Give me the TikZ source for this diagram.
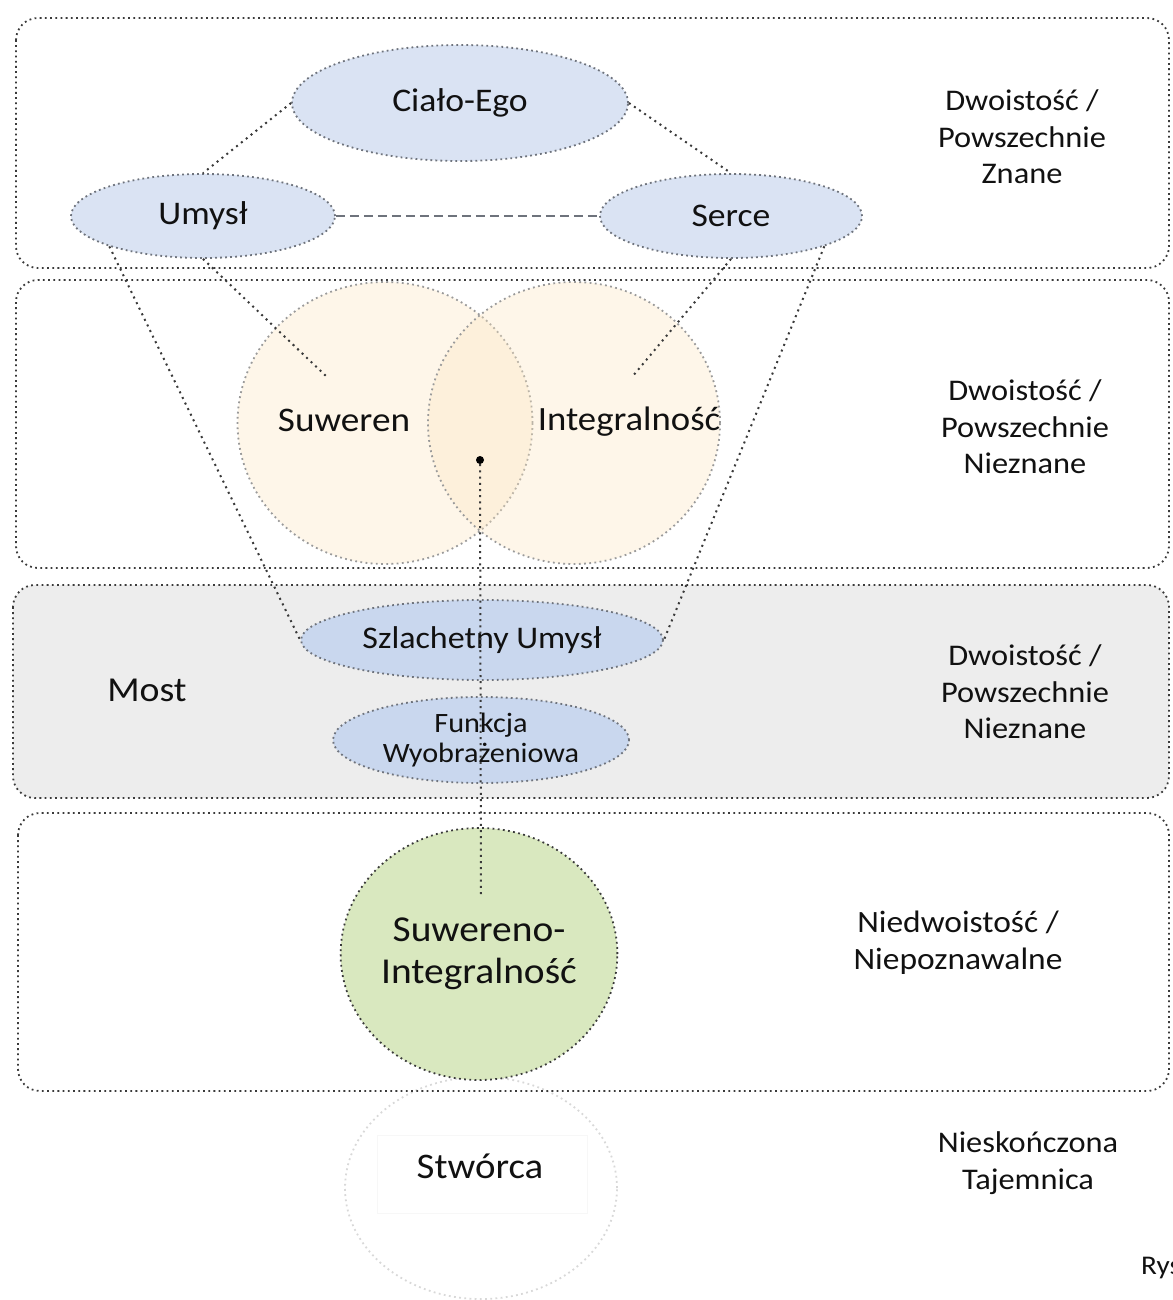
\documentclass[tikz,border=0pt]{standalone}
\usepackage{fontspec}
\setmainfont[FakeStretch=1.08]{Carlito}
\usetikzlibrary{shapes.geometric}
\definecolor{dotc}{HTML}{3A3A3A}
\definecolor{ellline}{HTML}{6E737C}
\definecolor{vennline}{HTML}{9A9A9A}
\definecolor{faintline}{HTML}{D8D8D8}
\definecolor{blueA}{HTML}{DAE3F3}
\definecolor{blueB}{HTML}{C9D7EE}
\definecolor{creamc}{HTML}{FBE5C0}
\definecolor{greenc}{HTML}{D9E8BF}
\definecolor{bandgray}{HTML}{EDEDED}
\definecolor{txt}{HTML}{111111}
\tikzset{
  rowbox/.style={draw=dotc, line width=1.8pt, dash pattern=on 1.8pt off 3.4pt, rounded corners=22pt},
  dotline/.style={draw=dotc, line width=2pt, dash pattern=on 2pt off 4.2pt},
  dashline/.style={draw=ellline, line width=1.1pt, dash pattern=on 9pt off 5pt},
  blueell/.style={ellipse, fill=blueA, draw=ellline, line width=1.8pt, dash pattern=on 1.8pt off 3.2pt, inner sep=0pt, text=txt},
  venn/.style={ellipse, fill=creamc, fill opacity=0.35, draw=vennline, draw opacity=1, line width=1.8pt, dash pattern=on 1.8pt off 3.4pt, inner sep=0pt},
  lbl/.style={text=txt, align=center, inner sep=0pt},
}
\newcommand{\fsz}[2]{\fontsize{#1pt}{#2pt}\selectfont}
\begin{document}
\begin{tikzpicture}[x=1pt,y=-1pt]
\useasboundingbox (0,0) rectangle (1172,1300);
\clip (0,0) rectangle (1172,1300);

% Stwórca (faint)
\node[ellipse, minimum width=272pt, minimum height=222pt, draw=faintline, line width=1.8pt, dash pattern=on 1.8pt off 3.4pt, inner sep=0pt] (stworca) at (481,1188) {};
\draw[draw=black!3, line width=1pt] (377,1135) rectangle (587,1213);
\node[lbl, font=\fsz{36}{43}] (stwt) at (480,1166) {Stwórca};

% rows
\draw[rowbox] (16,18) rectangle (1169,268);
\draw[rowbox] (16,280) rectangle (1169,568);
\draw[rowbox, fill=bandgray] (13,585) rectangle (1169,798);
\draw[rowbox] (18,813) rectangle (1169,1091);

% Venn circles
\node[venn, minimum width=295pt, minimum height=282pt] (suw) at (385,423) {};
\node[venn, minimum width=292pt, minimum height=282pt] (integ) at (574,423) {};
\node[lbl, font=\fsz{34.5}{41}] (suwt) at (344,420) {Suweren};
\node[lbl, font=\fsz{34}{41}] (integt) at (629,422) {Integralność};
\node[circle, fill=black, inner sep=0pt, minimum size=8pt] (dot) at (480,460) {};

% ellipses
\node[blueell, minimum width=336pt, minimum height=116pt, font=\fsz{33}{39}] (cialo) at (460,103) {Ciało-Ego};
\node[blueell, minimum width=264pt, minimum height=84pt, font=\fsz{33}{39}] (umysl) at (203,216) {Umysł};
\node[blueell, minimum width=262pt, minimum height=84pt, font=\fsz{33}{39}] (serce) at (731,216) {Serce};
\node[blueell, fill=blueB, minimum width=362pt, minimum height=80pt, font=\fsz{31.5}{37}] (szl) at (482,640) {Szlachetny Umysł};
\node[blueell, fill=blueB, minimum width=296pt, minimum height=86pt, font=\fsz{28}{30}, align=center] (funk) at (481,740) {Funkcja\\Wyobrażeniowa};
\node[ellipse, fill=greenc, draw=dotc, line width=1.8pt, dash pattern=on 1.8pt off 3.4pt, inner sep=0pt, minimum width=264pt, minimum height=252pt, font=\fsz{36.5}{42}, align=center, text=txt] (green) at (479,954) {Suwereno-\\Integralność};

% Most
\node[lbl, font=\fsz{35}{42}] (most) at (147,690) {Most};

% right labels
\node[lbl, font=\fsz{30}{36.5}] (r1) at (1022,137) {Dwoistość /\\Powszechnie\\Znane};
\node[lbl, font=\fsz{30}{36.5}] (r2) at (1025,427) {Dwoistość /\\Powszechnie\\Nieznane};
\node[lbl, font=\fsz{30}{36.5}] (r3) at (1025,692) {Dwoistość /\\Powszechnie\\Nieznane};
\node[lbl, font=\fsz{31}{37}] (r4) at (958,943) {Niedwoistość /\\Niepoznawalne};
\node[lbl, font=\fsz{30}{37}] (r5) at (1028,1163) {Nieskończona\\Tajemnica};
\node[lbl, font=\fsz{27}{32}, anchor=west] (rys) at (1141,1268) {Rys.};

% connectors
\draw[dotline] (cialo.west) -- (umysl.north);
\draw[dotline] (cialo.east) -- (serce.north);
\draw[dashline] (umysl.east) -- (serce.west);
\coordinate (uEnd) at (327,377);
\coordinate (sEnd) at (632,377);
\draw[dotline] (umysl.south) -- (uEnd);
\draw[dotline] (serce.south) -- (sEnd);
\draw[dotline] (umysl.198) -- (szl.west);
\draw[dotline] (serce.-18) -- (szl.east);
\coordinate (vEnd) at (481,897);
\draw[dotline] (dot) -- (vEnd);
\end{tikzpicture}
\end{document}
